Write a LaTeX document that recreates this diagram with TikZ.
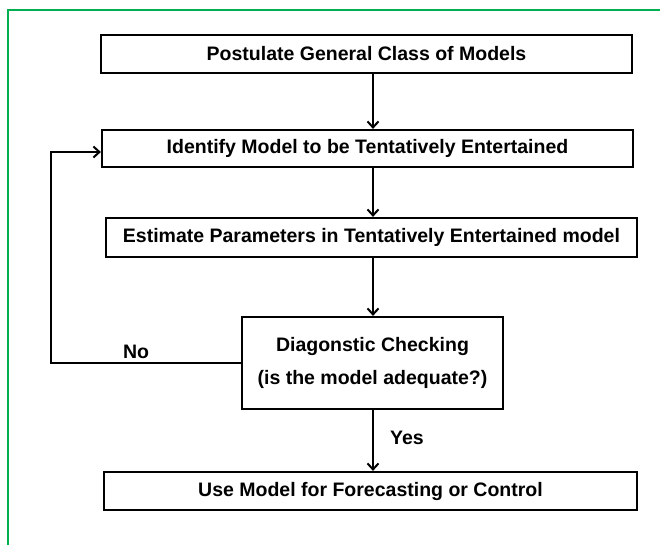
\documentclass[tikz,border=0pt]{standalone}
\usepackage{fontspec}
\setmainfont{Liberation Sans}
\usetikzlibrary{arrows.meta}
\definecolor{framegreen}{RGB}{0,176,80}
\begin{document}
\begin{tikzpicture}[x=1pt,y=-1pt,
  box/.style={draw=black, line width=2.2pt, fill=white, inner sep=0pt,
    font=\fontsize{19.5}{33}\selectfont\bfseries, align=center},
  arr/.style={draw=black, line width=2pt, -{Straight Barb[length=6pt,width=11pt,line width=2pt]}},
  lbl/.style={font=\fontsize{19.5}{23}\selectfont\bfseries, inner sep=0pt}]
\useasboundingbox (0,0) rectangle (660,545);
\fill[white] (0,0) rectangle (660,545);
% green frame (cut by the picture edge on right and bottom)
\draw[framegreen, line width=2pt] (7.5,560) -- (7.5,10) -- (680,10);

\node[box, minimum width=531pt, minimum height=38pt] (b1) at (366.5,54) {Postulate General Class of Models};
\node[box, minimum width=531pt, minimum height=37pt] (b2) at (367.5,148.5) {Identify Model to be Tentatively Entertained};
\node[box, minimum width=531pt, minimum height=39pt] (b3) at (371.5,237.5) {Estimate Parameters in Tentatively Entertained model};
\node[box, minimum width=261pt, minimum height=92pt] (dg) at (372.5,363) {Diagonstic Checking\\(is the model adequate?)};
\node[box, minimum width=533pt, minimum height=38pt] (b5) at (370.5,491) {Use Model for Forecasting or Control};

\coordinate (ax) at (373,0);
\coordinate (fb) at (51,363);
\coordinate (fbt) at (51,152);

\draw[arr] (b1.south -| ax) -- (b2.north -| ax);
\draw[arr] (b2.south -| ax) -- (b3.north -| ax);
\draw[arr] (b3.south -| ax) -- (dg.north -| ax);
\draw[arr] (dg.south -| ax) -- (b5.north -| ax);
\draw[arr] (dg.west) -- (fb) -- (fbt) -- (fbt -| b2.west);

\node[lbl] (no) at (136,352) {No};
\node[lbl] (yes) at (407,438) {Yes};
\end{tikzpicture}
\end{document}
